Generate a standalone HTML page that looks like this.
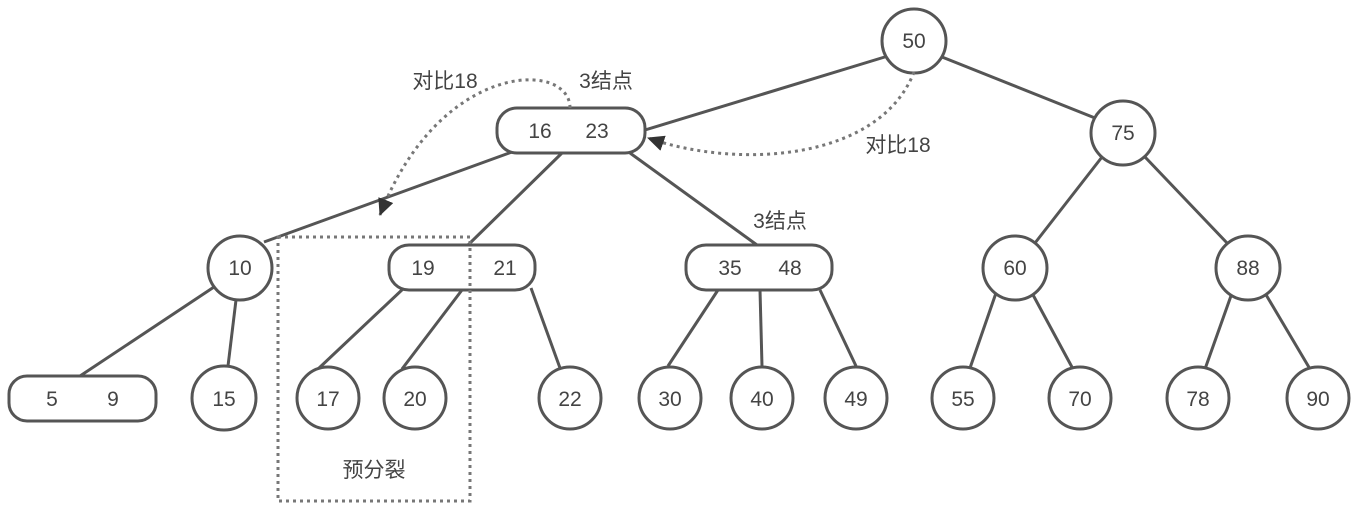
<!DOCTYPE html>
<html><head><meta charset="utf-8"><style>body{margin:0;background:#fff}svg{display:block}</style></head><body>
<svg width="1362" height="513" viewBox="0 0 1362 513" xmlns="http://www.w3.org/2000/svg" font-family="'Liberation Sans','Noto Sans CJK SC',sans-serif" font-size="21" fill="#444">
<defs>
<marker id="b" markerWidth="20" markerHeight="20" refX="16" refY="8" orient="auto" markerUnits="userSpaceOnUse"><path d="M0,0 L17,8 L0,16 z" fill="#333"/></marker></defs>
<g stroke="#555" stroke-width="3" fill="none">
<line x1="888" y1="56" x2="645" y2="130"/>
<line x1="942" y1="57" x2="1095" y2="118"/>
<line x1="1102" y1="157" x2="1035" y2="243"/>
<line x1="1145" y1="157" x2="1228" y2="244"/>
<line x1="512" y1="152" x2="264" y2="242"/>
<line x1="562" y1="153" x2="468" y2="245"/>
<line x1="630" y1="153" x2="757" y2="245"/>
<line x1="214" y1="287" x2="80" y2="376"/>
<line x1="236" y1="300" x2="228" y2="366"/>
<line x1="404" y1="288" x2="318" y2="369"/>
<line x1="462" y1="290" x2="402" y2="369"/>
<line x1="531" y1="288" x2="560" y2="368"/>
<line x1="718" y1="290" x2="668" y2="366"/>
<line x1="760" y1="290" x2="762" y2="366"/>
<line x1="820" y1="290" x2="856" y2="366"/>
<line x1="996" y1="293" x2="970" y2="368"/>
<line x1="1032" y1="293" x2="1073" y2="369"/>
<line x1="1232" y1="293" x2="1205" y2="369"/>
<line x1="1265" y1="293" x2="1310" y2="369"/>
</g>
<g stroke="#555" stroke-width="3" fill="#fff">
<circle cx="914" cy="41" r="32"/>
<rect x="497" y="108" width="148" height="45" rx="20"/>
<circle cx="1123" cy="133" r="32"/>
<circle cx="240" cy="268" r="32"/>
<rect x="389" y="245" width="146" height="45" rx="20"/>
<rect x="686" y="245" width="146" height="45" rx="20"/>
<circle cx="1015" cy="268" r="32"/>
<circle cx="1248" cy="268" r="32"/>
<rect x="9" y="376" width="147" height="45" rx="18"/>
<circle cx="224" cy="398" r="32"/><circle cx="328" cy="398" r="31"/><circle cx="415" cy="398" r="31"/>
<circle cx="570" cy="398" r="31"/><circle cx="670" cy="398" r="31"/><circle cx="762" cy="398" r="31"/>
<circle cx="856" cy="398" r="31"/><circle cx="963" cy="398" r="31"/><circle cx="1080" cy="398" r="31"/>
<circle cx="1198" cy="398" r="31"/><circle cx="1318" cy="398" r="31"/>
</g>
<g stroke="#777" stroke-width="3" stroke-dasharray="3,4" fill="none">
<rect x="278" y="237" width="192" height="264"/>
<path d="M570,108 C570,60 440,60 380,215" marker-end="url(#b)"/>
<path d="M914,72 C880,160 740,170 648,138" marker-end="url(#b)"/>
</g>
<g text-anchor="middle">
<text x="914" y="48">50</text><text x="540" y="138">16</text><text x="597" y="138">23</text>
<text x="1123" y="140">75</text><text x="240" y="275">10</text>
<text x="423" y="275">19</text><text x="505" y="275">21</text>
<text x="730" y="275">35</text><text x="790" y="275">48</text>
<text x="1015" y="275">60</text><text x="1248" y="275">88</text>
<text x="52" y="406">5</text><text x="113" y="406">9</text>
<text x="224" y="406">15</text><text x="328" y="406">17</text><text x="415" y="406">20</text>
<text x="570" y="406">22</text><text x="670" y="406">30</text><text x="762" y="406">40</text>
<text x="856" y="406">49</text><text x="963" y="406">55</text><text x="1080" y="406">70</text>
<text x="1198" y="406">78</text><text x="1318" y="406">90</text>
<text x="445" y="88">对比18</text><text x="606" y="88">3结点</text>
<text x="898" y="152">对比18</text><text x="780" y="228">3结点</text>
<text x="374" y="477">预分裂</text>
</g>
</svg>
</body></html>
